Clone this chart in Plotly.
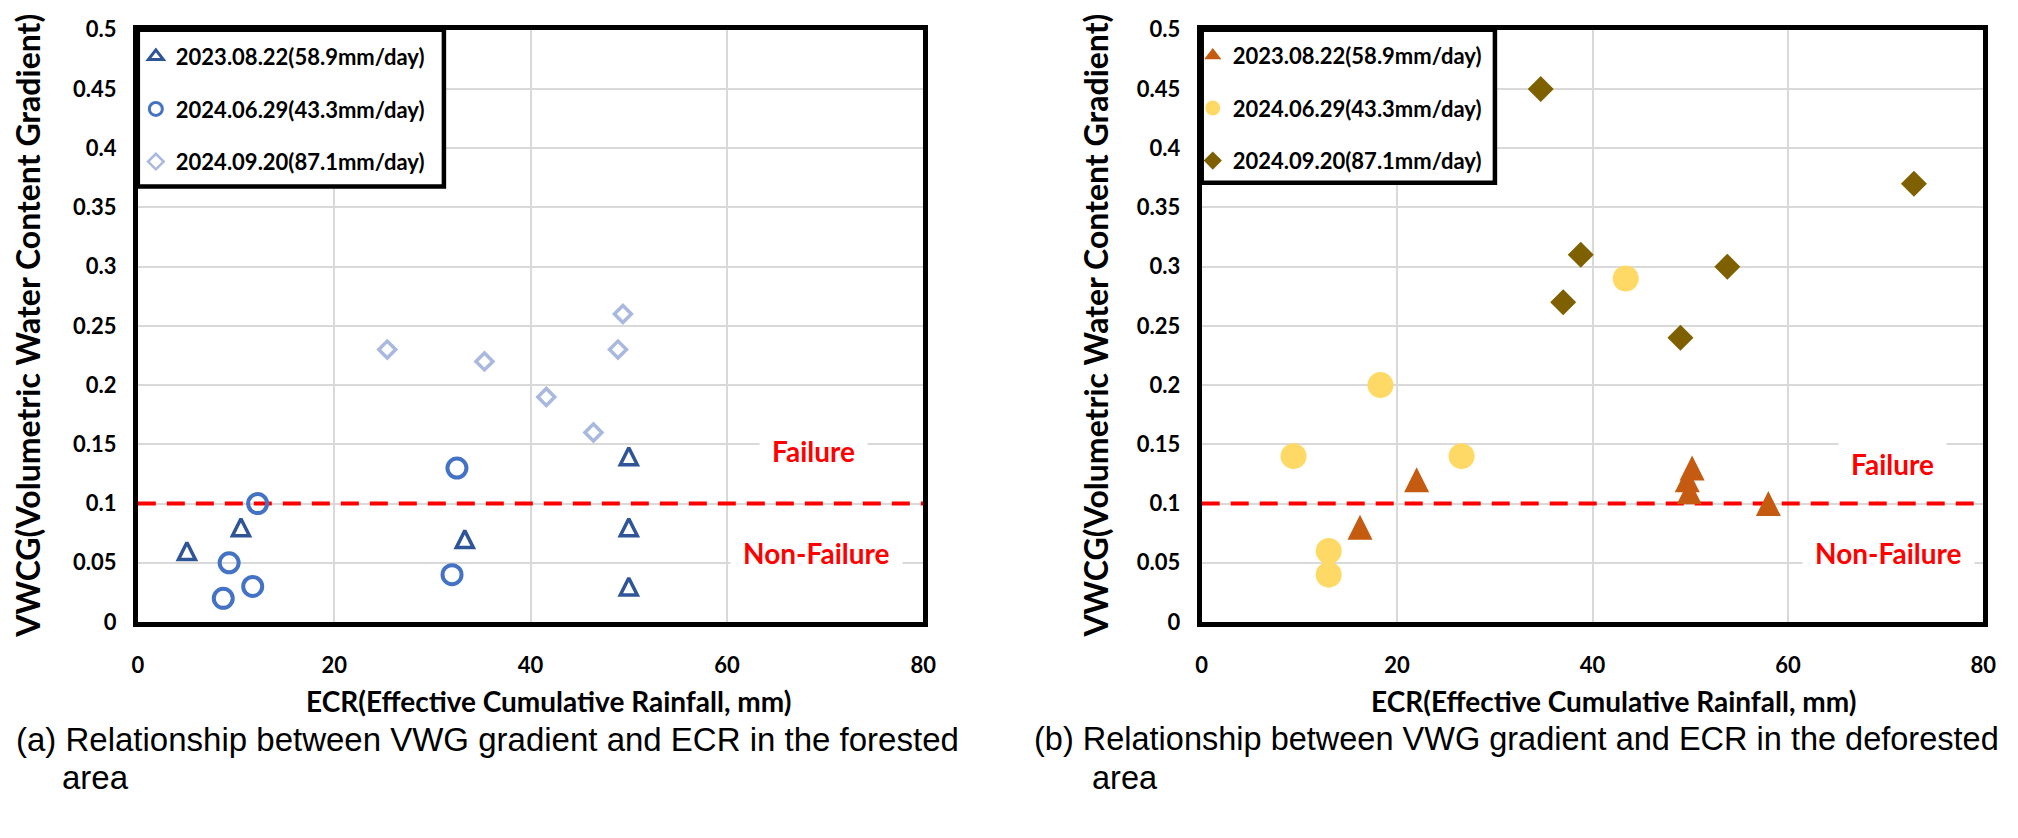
import plotly.graph_objects as go

# ---------------- data ----------------
x_tick_vals = [0, 20, 40, 60, 80]
y_tick_vals = [0, 0.05, 0.1, 0.15, 0.2, 0.25, 0.3, 0.35, 0.4, 0.45, 0.5]
y_tick_text = ["0", "0.05", "0.1", "0.15", "0.2", "0.25", "0.3", "0.35", "0.4", "0.45", "0.5"]

series_names = ["2023.08.22(58.9mm/day)", "2024.06.29(43.3mm/day)", "2024.09.20(87.1mm/day)"]

# (a) forested area
fa_2023_x = [5.0, 10.5, 33.3, 50.0, 50.0, 50.0]
fa_2023_y = [0.06, 0.08, 0.07, 0.14, 0.08, 0.03]
fa_2406_x = [12.2, 9.3, 8.7, 11.7, 32.5, 32.0]
fa_2406_y = [0.10, 0.05, 0.02, 0.03, 0.13, 0.04]
fa_2409_x = [25.4, 35.3, 41.6, 46.4, 48.9, 49.4]
fa_2409_y = [0.23, 0.22, 0.19, 0.16, 0.23, 0.26]

# (b) deforested area
df_2023_x = [16.2, 22.0, 49.7, 49.9, 50.2, 58.0]
df_2023_y = [0.08, 0.12, 0.12, 0.11, 0.13, 0.10]
df_2406_x = [9.4, 13.0, 13.0, 18.3, 26.6, 43.4]
df_2406_y = [0.14, 0.06, 0.04, 0.20, 0.14, 0.29]
df_2409_x = [34.7, 37.0, 38.8, 49.0, 53.8, 72.9]
df_2409_y = [0.45, 0.27, 0.31, 0.24, 0.30, 0.37]

threshold_x = [0, 80]
threshold_y = [0.1, 0.1]

x_title = "ECR(Effective Cumulative Rainfall, mm)"
y_title = "VWCG(Volumetric Water Content Gradient)"
caption_a = "(a) Relationship between VWG gradient and ECR in the forested"
caption_b = "(b) Relationship between VWG gradient and ECR in the deforested"
caption_cont = "area"

# ---------------- style ----------------
W, H = 2018, 838
FONT = "Lato"
C_A = ["#2F5597", "#4472C4", "#A9B8DE"]
C_B = ["#C55A11", "#FFD966", "#7F6000"]

def px_x(p):
    return p / W

def px_y(p):
    return 1 - p / H

TOP, BOT = 8, 620
A_L, A_R = 125, 918
B_L, B_R = 1199, 1988
dom_a = [px_x(A_L), px_x(A_R)]
dom_b = [px_x(B_L), px_x(B_R)]
dom_y = [px_y(BOT), px_y(TOP)]

fig = go.Figure()

def threshold(xa, ya):
    fig.add_trace(go.Scatter(x=threshold_x, y=threshold_y, mode="lines", xaxis=xa, yaxis=ya,
                             line=dict(color="#FF0000", width=4, dash="18px,11px"),
                             showlegend=False, hoverinfo="skip"))

def tri(x, y, xa, ya, color, size, openm):
    marker = dict(symbol="arrow-down-open" if openm else "arrow-down", size=size, angle=180,
                  standoff=size / 2, color=color,
                  line=dict(color=color, width=3.5 if openm else 0))
    fig.add_trace(go.Scatter(x=x, y=y, mode="markers", xaxis=xa, yaxis=ya, marker=marker,
                             showlegend=False))

# panel (a)
threshold("x", "y")
tri(fa_2023_x, fa_2023_y, "x", "y", C_A[0], 17, True)
fig.add_trace(go.Scatter(x=fa_2406_x, y=fa_2406_y, mode="markers", xaxis="x", yaxis="y",
                         marker=dict(symbol="circle-open", size=19, color=C_A[1],
                                     line=dict(color=C_A[1], width=4)), showlegend=False))
fig.add_trace(go.Scatter(x=fa_2409_x, y=fa_2409_y, mode="markers", xaxis="x", yaxis="y",
                         marker=dict(symbol="diamond-open", size=13, color=C_A[2],
                                     line=dict(color=C_A[2], width=3.5)), showlegend=False))

# panel (b)
threshold("x2", "y2")
tri(df_2023_x, df_2023_y, "x2", "y2", C_B[0], 25, False)
fig.add_trace(go.Scatter(x=df_2406_x, y=df_2406_y, mode="markers", xaxis="x2", yaxis="y2",
                         marker=dict(symbol="circle", size=26, color=C_B[1]), showlegend=False))
fig.add_trace(go.Scatter(x=df_2409_x, y=df_2409_y, mode="markers", xaxis="x2", yaxis="y2",
                         marker=dict(symbol="diamond", size=20, color=C_B[2]), showlegend=False))

# legend entries
leg_a = [dict(symbol="triangle-up-open", size=13, color=C_A[0], line=dict(color=C_A[0], width=3)),
         dict(symbol="circle-open", size=13, color=C_A[1], line=dict(color=C_A[1], width=3)),
         dict(symbol="diamond-open", size=12, color=C_A[2], line=dict(color=C_A[2], width=2.5))]
leg_b = [dict(symbol="triangle-up", size=15, color=C_B[0]),
         dict(symbol="circle", size=15, color=C_B[1]),
         dict(symbol="diamond", size=14, color=C_B[2])]
for i, name in enumerate(series_names):
    fig.add_trace(go.Scatter(x=[None], y=[None], mode="markers", xaxis="x", yaxis="y", name=name,
                             marker=leg_a[i], legend="legend", legendgroup="a%d" % i))
for i, name in enumerate(series_names):
    fig.add_trace(go.Scatter(x=[None], y=[None], mode="markers", xaxis="x2", yaxis="y2", name=name,
                             marker=leg_b[i], legend="legend2", legendgroup="b%d" % i))

tickfont = dict(family=FONT, size=22, color="black", weight="bold")
axis_common = dict(showline=True, mirror=True, linecolor="black", linewidth=5,
                   showgrid=True, gridcolor="#D9D9D9", gridwidth=1.5, zeroline=False,
                   tickfont=tickfont, ticks="", ticklabeloverflow="allow")
xax = dict(axis_common, range=[0, 80], tickvals=x_tick_vals, ticklabelstandoff=20)
yax = dict(axis_common, range=[0, 0.5], tickvals=y_tick_vals, ticktext=y_tick_text,
           ticklabelstandoff=12)

legend_common = dict(bgcolor="rgba(0,0,0,0)", borderwidth=0,
                     font=dict(family=FONT, size=22, color="black", weight="bold"),
                     traceorder="grouped", tracegroupgap=21, xanchor="left", yanchor="top",
                     itemsizing="trace")

# legend frames (white boxes with heavy black border)
box_a = dict(x0=px_x(A_L), x1=px_x(A_L + 309), y0=px_y(TOP), y1=px_y(TOP + 162))
box_b = dict(x0=px_x(B_L), x1=px_x(B_L + 296), y0=px_y(TOP), y1=px_y(TOP + 158))
shapes = [dict(type="rect", xref="paper", yref="paper", layer="above",
               fillcolor="white", line=dict(color="black", width=4.5), **b)
          for b in (box_a, box_b)]

fig.update_layout(
    width=W, height=H, margin=dict(l=0, r=0, t=0, b=0),
    paper_bgcolor="white", plot_bgcolor="white", showlegend=True,
    xaxis=dict(xax, domain=dom_a, anchor="y"),
    yaxis=dict(yax, domain=dom_y, anchor="x"),
    xaxis2=dict(xax, domain=dom_b, anchor="y2"),
    yaxis2=dict(yax, domain=dom_y, anchor="x2"),
    legend=dict(legend_common, x=px_x(A_L - 2), y=px_y(TOP + 6)),
    legend2=dict(legend_common, x=px_x(B_L - 9), y=px_y(TOP + 5)),
    shapes=shapes,
)

lab_font = dict(family=FONT, size=28, color="#FF0000", weight="bold")
ytitle_font = dict(family=FONT, size=32, color="black", weight="bold")
xtitle_font = dict(family=FONT, size=28, color="black", weight="bold")
cap_font_a = dict(family="Liberation Sans", size=33, color="black")
cap_font_b = dict(family="Liberation Sans", size=32.5, color="black")
ann = [
    dict(x=68.8, y=0.144, xref="x", yref="y", text="Failure"),
    dict(x=69.1, y=0.0586, xref="x", yref="y", text="Non-Failure"),
    dict(x=70.7, y=0.1335, xref="x2", yref="y2", text="Failure"),
    dict(x=70.3, y=0.0586, xref="x2", yref="y2", text="Non-Failure"),
]
for a in ann:
    fig.add_annotation(**a, showarrow=False, font=lab_font, bgcolor="white", borderpad=12,
                       xanchor="center", yanchor="middle")

for xc in (14, 1092):
    fig.add_annotation(x=px_x(xc), y=px_y((TOP + BOT) / 2), xref="paper", yref="paper",
                       text=y_title, textangle=-90, showarrow=False, font=ytitle_font,
                       xanchor="center", yanchor="middle")
for xc in (540, 1615):
    fig.add_annotation(x=px_x(xc), y=px_y(702), xref="paper", yref="paper", text=x_title,
                       showarrow=False, font=xtitle_font, xanchor="center", yanchor="middle")

caps = [(0, 46, caption_a, cap_font_a), (1028, 1086, caption_b, cap_font_b)]
for xc, xa, txt, cf in caps:
    fig.add_annotation(x=px_x(xc), y=px_y(741), xref="paper", yref="paper", text=txt,
                       xanchor="left", yanchor="middle", showarrow=False, font=cf)
    fig.add_annotation(x=px_x(xa), y=px_y(781), xref="paper", yref="paper", text=caption_cont,
                       xanchor="left", yanchor="middle", showarrow=False, font=cf)

fig.write_html("out.html")
